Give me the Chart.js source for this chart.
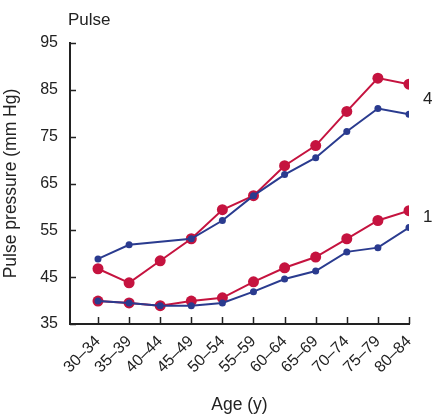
<!DOCTYPE html>
<html>
<head>
<meta charset="utf-8">
<script src="https://cdn.jsdelivr.net/npm/chart.js@4.4.1/dist/chart.umd.min.js"></script>
<style>
  html, body { margin: 0; padding: 0; background: #fff; }
  #wrap { width: 436px; height: 418px; }
</style>
</head>
<body>
<div id="wrap"><canvas id="pulseChart" width="436" height="418"></canvas></div>
<script>
// age groups on the x axis
const ageGroups = ['30–34', '35–39', '40–44', '45–49', '50–54', '55–59', '60–64', '65–69', '70–74', '75–79', '80–84'];
const yTicks = [35, 45, 55, 65, 75, 85, 95];

// upper pair (labelled 4)
const red4 = [46.8, 43.8, 48.5, 53.2, 59.4, 62.4, 68.8, 73.1, 80.4, 87.5, 86.2];
const blue4 = [48.9, 51.9, null, 53.2, 57.1, 62.4, 66.9, 70.5, 76.1, 81.0, 79.8];
// lower pair (labelled 1)
const red1 = [39.9, 39.5, 38.9, 39.9, 40.6, 44.0, 47.0, 49.3, 53.2, 57.1, 59.2];
const blue1 = [39.9, 39.5, 38.9, 38.9, 39.5, 41.9, 44.6, 46.3, 50.4, 51.3, 55.6];

const RED = '#c5133f';
const BLUE = '#2a3b8f';
const FONT = 'Liberation Sans, Arial, Helvetica, sans-serif';

function toPoints(arr) {
    return arr.map((v, i) => ({ x: i, y: v })).filter(p => p.y !== null);
}

function lineSet(arr, color, big) {
    return {
        data: toPoints(arr),
        borderColor: color,
        backgroundColor: color,
        borderWidth: 2,
        pointRadius: big ? 5.5 : 3.5,
        pointBorderWidth: 0,
        pointBackgroundColor: color,
        tension: 0
    };
}

// inner tick marks + text labels drawn on top
const extras = {
    id: 'extras',
    afterDraw(chart) {
        const ctx = chart.ctx;
        const x = chart.scales.x, y = chart.scales.y;
        const area = chart.chartArea;
        ctx.save();
        ctx.strokeStyle = '#222';
        ctx.lineWidth = 1.5;
        ctx.beginPath();
        yTicks.forEach(v => {
            const py = Math.round(y.getPixelForValue(v)) + 0.5;
            ctx.moveTo(area.left, py);
            ctx.lineTo(area.left + 6, py);
        });
        ageGroups.forEach((g, i) => {
            const px = Math.round(x.getPixelForValue(i)) + 0.5;
            ctx.moveTo(px, area.bottom);
            ctx.lineTo(px, area.bottom - 7);
        });
        ctx.stroke();

        ctx.fillStyle = '#222';
        ctx.font = '17px ' + FONT;
        ctx.textBaseline = 'middle';
        ctx.textAlign = 'left';
        ctx.fillText('Pulse', area.left - 2, 20);
        const last = ageGroups.length - 1;
        const lx = x.getPixelForValue(last) + 14;
        ctx.fillText('4', lx, y.getPixelForValue((red4[last] + blue4[last]) / 2));
        ctx.fillText('1', lx, y.getPixelForValue((red1[last] + blue1[last]) / 2) - 2);
        ctx.restore();
    }
};

const chart = new Chart(document.getElementById('pulseChart'), {
    type: 'line',
    data: {
        datasets: [
            lineSet(blue4, BLUE, false),
            lineSet(blue1, BLUE, false),
            lineSet(red4, RED, true),
            lineSet(red1, RED, true)
        ]
    },
    options: {
        responsive: false,
        animation: false,
        layout: { padding: { top: 43, right: 27, left: 0, bottom: 0 } },
        plugins: {
            legend: { display: false },
            tooltip: { enabled: false }
        },
        scales: {
            x: {
                type: 'linear',
                min: -0.9,
                max: 10,
                afterBuildTicks: s => { s.ticks = ageGroups.map((g, i) => ({ value: i })); },
                afterFit: s => { s.height = 94; },
                grid: { display: false, drawTicks: false },
                border: { color: '#222', width: 2 },
                ticks: {
                    autoSkip: false,
                    maxRotation: 45,
                    minRotation: 45,
                    padding: 8,
                    color: '#222',
                    font: { family: FONT, size: 16 },
                    callback: v => ageGroups[v]
                },
                title: {
                    display: true,
                    text: 'Age (y)',
                    color: '#222',
                    font: { family: FONT, size: 17.5 },
                    padding: { top: 2, bottom: 2 }
                }
            },
            y: {
                min: 35,
                max: 95,
                afterBuildTicks: s => { s.ticks = yTicks.map(v => ({ value: v })); },
                afterFit: s => { s.width = 70; },
                grid: { display: false, drawTicks: false },
                border: { color: '#222', width: 2 },
                ticks: {
                    padding: 12,
                    color: '#222',
                    font: { family: FONT, size: 16 }
                },
                title: {
                    display: true,
                    text: 'Pulse pressure (mm Hg)',
                    color: '#222',
                    font: { family: FONT, size: 17.5 },
                    padding: { top: 1, bottom: 0 }
                }
            }
        }
    },
    plugins: [extras]
});
</script>
</body>
</html>
